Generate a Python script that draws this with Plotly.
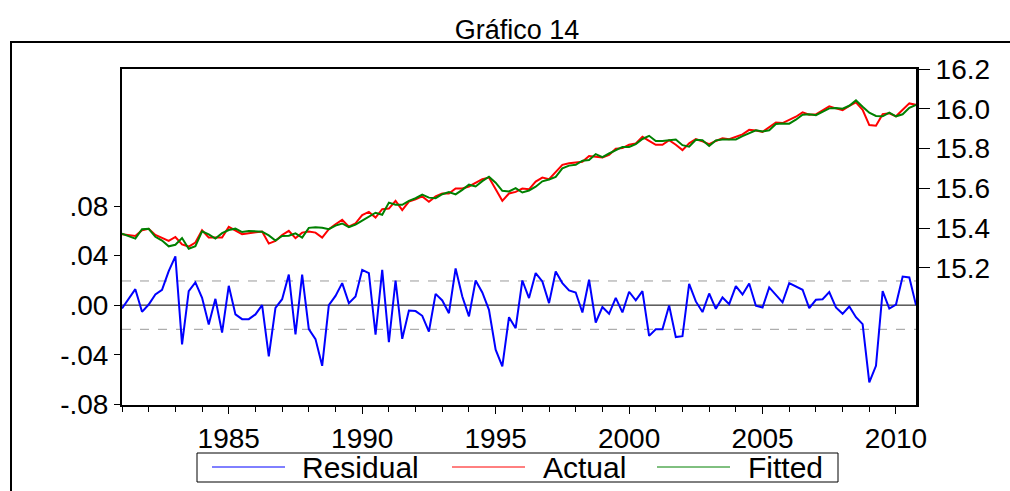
import plotly.graph_objects as go

# ---- data (quarterly, 1981Q1 .. 2010Q4) ----
start_year = 1981
end_year = 2010
quarters = [f"{y}Q{q}" for y in range(start_year, end_year + 1) for q in range(1, 5)]

residual = [
    -0.0027, 0.0050, 0.0129, -0.0054, 0.0005, 0.0086, 0.0124, 0.0274, 0.0393, -0.0317,
    0.0113, 0.0183, 0.0059, -0.0156, 0.0051, -0.0221, 0.0156, -0.0075, -0.0113, -0.0113,
    -0.0075, 0.0000, -0.0414, -0.0022, 0.0048, 0.0247, -0.0237, 0.0247, -0.0194, -0.0274,
    -0.0490, 0.0000, 0.0075, 0.0178, 0.0016, 0.0070, 0.0285, 0.0258, -0.0239, 0.0285,
    -0.0299, 0.0199, -0.0272, -0.0043, -0.0048, -0.0086, -0.0213, 0.0091, 0.0038, -0.0065,
    0.0296, 0.0070, -0.0091, 0.0199, 0.0102, -0.0038, -0.0360, -0.0495, -0.0097, -0.0186,
    0.0199, 0.0057, 0.0259, 0.0191, 0.0016, 0.0272, 0.0178, 0.0119, 0.0102, -0.0059,
    0.0205, -0.0140, -0.0016, -0.0070, 0.0059, -0.0059, 0.0108, 0.0038, 0.0113, -0.0248,
    -0.0194, -0.0194, -0.0003, -0.0258, -0.0250, 0.0172, 0.0030, -0.0056, 0.0094, -0.0030,
    0.0062, 0.0008, 0.0153, 0.0086, 0.0175, -0.0005, -0.0019, 0.0143, 0.0083, 0.0022,
    0.0178, 0.0153, 0.0124, -0.0024, 0.0043, 0.0048, 0.0105, -0.0019, -0.0070, -0.0011,
    -0.0097, -0.0153, -0.0624, -0.0490, 0.0113, -0.0027, 0.0005, 0.0231, 0.0223, 0.0000,
]

actual = [
    15.369, 15.364, 15.360, 15.389, 15.396, 15.365, 15.349, 15.335, 15.355, 15.318,
    15.307, 15.327, 15.389, 15.352, 15.352, 15.352, 15.406, 15.389, 15.369, 15.374,
    15.377, 15.382, 15.322, 15.335, 15.365, 15.386, 15.349, 15.377, 15.382, 15.377,
    15.352, 15.394, 15.419, 15.441, 15.407, 15.424, 15.465, 15.481, 15.453, 15.495,
    15.498, 15.537, 15.490, 15.533, 15.545, 15.559, 15.532, 15.559, 15.574, 15.574,
    15.599, 15.599, 15.609, 15.629, 15.646, 15.654, 15.592, 15.537, 15.574, 15.582,
    15.599, 15.595, 15.634, 15.654, 15.646, 15.684, 15.718, 15.726, 15.728, 15.733,
    15.762, 15.758, 15.755, 15.768, 15.799, 15.802, 15.819, 15.826, 15.859, 15.839,
    15.819, 15.819, 15.842, 15.819, 15.792, 15.826, 15.847, 15.836, 15.822, 15.838,
    15.851, 15.847, 15.861, 15.871, 15.894, 15.891, 15.884, 15.906, 15.931, 15.928,
    15.943, 15.960, 15.982, 15.970, 15.972, 15.992, 16.012, 16.002, 15.993, 16.014,
    16.032, 15.995, 15.918, 15.915, 15.973, 15.977, 15.962, 15.995, 16.027, 16.020,
]

fitted = [
    15.372, 15.359, 15.347, 15.394, 15.396, 15.356, 15.337, 15.308, 15.316, 15.350,
    15.296, 15.309, 15.383, 15.368, 15.347, 15.374, 15.390, 15.397, 15.380, 15.385,
    15.385, 15.382, 15.363, 15.337, 15.360, 15.361, 15.373, 15.352, 15.401, 15.404,
    15.401, 15.394, 15.412, 15.423, 15.405, 15.417, 15.437, 15.455, 15.477, 15.467,
    15.528, 15.517, 15.517, 15.537, 15.550, 15.568, 15.553, 15.550, 15.570, 15.581,
    15.569, 15.592, 15.618, 15.609, 15.636, 15.658, 15.628, 15.587, 15.584, 15.601,
    15.579, 15.589, 15.608, 15.635, 15.644, 15.657, 15.700, 15.714, 15.718, 15.739,
    15.742, 15.772, 15.757, 15.775, 15.793, 15.808, 15.808, 15.822, 15.848, 15.864,
    15.838, 15.838, 15.842, 15.845, 15.817, 15.809, 15.844, 15.842, 15.813, 15.841,
    15.845, 15.846, 15.846, 15.862, 15.877, 15.892, 15.886, 15.892, 15.923, 15.926,
    15.925, 15.945, 15.970, 15.972, 15.968, 15.987, 16.002, 16.004, 16.000, 16.015,
    16.042, 16.010, 15.980, 15.964, 15.962, 15.980, 15.962, 15.972, 16.005, 16.020,
]

std_error = 0.0195

series_names = ["Residual", "Actual", "Fitted"]
series_colors = ["#0000FF", "#FF0000", "#008000"]

x_tick_vals = [1985, 1990, 1995, 2000, 2005, 2010]
x_tick_text = ["1985", "1990", "1995", "2000", "2005", "2010"]
left_tick_vals = [0.08, 0.04, 0.0, -0.04, -0.08]
left_tick_text = [".08", ".04", ".00", "-.04", "-.08"]
right_tick_vals = [15.2, 15.4, 15.6, 15.8, 16.0, 16.2]
right_tick_text = ["15.2", "15.4", "15.6", "15.8", "16.0", "16.2"]

# convert quarter labels to decimal years
xq = [int(s[:4]) + (int(s[5]) - 1) / 4 for s in quarters]

# ---- layout geometry (pixels) ----
W, H = 1010, 491
L, R, T, B = 122, 94, 69, 86
PW, PH = W - L - R, H - T - B


def px_x(p):
    return (p - L) / PW


def px_y(p):
    return (H - B - p) / PH


FONT = "Arial, Liberation Sans, sans-serif"
TICK_SIZE = 28

fig = go.Figure()
fig.add_trace(go.Scatter(x=xq, y=residual, name=series_names[0], mode="lines",
                         line=dict(color=series_colors[0], width=2), yaxis="y"))
fig.add_trace(go.Scatter(x=xq, y=actual, name=series_names[1], mode="lines",
                         line=dict(color=series_colors[1], width=2), yaxis="y2"))
fig.add_trace(go.Scatter(x=xq, y=fitted, name=series_names[2], mode="lines",
                         line=dict(color=series_colors[2], width=2), yaxis="y2"))

shapes = [
    dict(type="line", xref="paper", yref="y", x0=0, x1=1, y0=0, y1=0,
         line=dict(color="black", width=1), layer="below"),
    dict(type="line", xref="paper", yref="y", x0=0, x1=1, y0=std_error, y1=std_error,
         line=dict(color="#999999", width=1, dash="dash"), layer="below"),
    dict(type="line", xref="paper", yref="y", x0=0, x1=1, y0=-std_error, y1=-std_error,
         line=dict(color="#999999", width=1, dash="dash"), layer="below"),
    # outer frame
    dict(type="rect", xref="paper", yref="paper", x0=px_x(11), x1=px_x(1030),
         y0=px_y(520), y1=px_y(42), line=dict(color="black", width=2)),
    # legend box
    dict(type="rect", xref="paper", yref="paper", x0=px_x(197), x1=px_x(838),
         y0=px_y(482), y1=px_y(453), line=dict(color="black", width=1),
         fillcolor="white"),
]

annotations = []
legend_line_px = [(212, 285), (452, 525), (657, 730)]
legend_text_px = [300, 541, 746]
legend_y = 467
for name, color, (lx0, lx1), tx in zip(series_names, series_colors, legend_line_px, legend_text_px):
    shapes.append(dict(type="line", xref="paper", yref="paper",
                       x0=px_x(lx0), x1=px_x(lx1), y0=px_y(legend_y), y1=px_y(legend_y),
                       line=dict(color=color, width=1)))
    annotations.append(dict(text=name, xref="paper", yref="paper", x=px_x(tx),
                            y=px_y(legend_y), xanchor="left", yanchor="middle",
                            showarrow=False, font=dict(family=FONT, size=30, color="black")))

fig.update_layout(
    width=W, height=H,
    margin=dict(l=L, r=R, t=T, b=B, autoexpand=False),
    paper_bgcolor="white", plot_bgcolor="white",
    font=dict(family=FONT, size=TICK_SIZE, color="black"),
    title=dict(text="Gráfico 14", x=px_x(517), xref="paper", xanchor="center",
               y=1 - 30 / H, yanchor="middle",
               font=dict(family=FONT, size=27, color="black")),
    showlegend=False,
    shapes=shapes,
    annotations=annotations,
    xaxis=dict(range=[1981, 2010.75], tickvals=x_tick_vals, ticktext=x_tick_text,
               ticks="outside", ticklen=7, tickwidth=1, tickcolor="black",
               minor=dict(dtick=1, tick0=1981, ticks="outside", ticklen=5,
                          tickcolor="black"),
               showline=True, linecolor="black", linewidth=2, mirror=True,
               showgrid=False, zeroline=False, tickfont=dict(size=TICK_SIZE)),
    yaxis=dict(range=[-0.0806, 0.1906], tickvals=left_tick_vals, ticktext=left_tick_text,
               ticks="outside", ticklen=6, tickcolor="black",
               showline=True, linecolor="black", linewidth=2,
               showgrid=False, zeroline=False, tickfont=dict(size=TICK_SIZE)),
    yaxis2=dict(range=[14.51, 16.2], tickvals=right_tick_vals, ticktext=right_tick_text,
                overlaying="y", side="right",
                ticks="outside", ticklen=11, tickcolor="black",
                showline=True, linecolor="black", linewidth=3,
                showgrid=False, zeroline=False, tickfont=dict(size=TICK_SIZE)),
)

fig.write_html("out.html",
               config={"displayModeBar": False},
               post_script="document.body.style.margin='0px';document.body.style.overflow='hidden';")
